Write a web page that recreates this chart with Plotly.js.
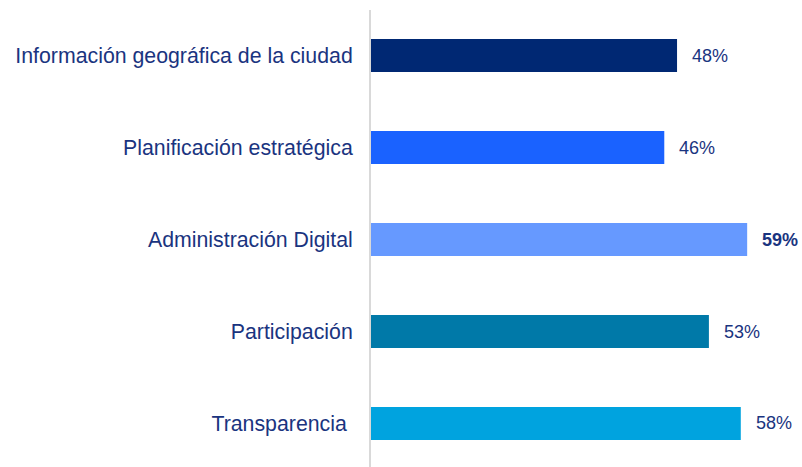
<!DOCTYPE html>
<html>
<head>
<meta charset="utf-8">
<script src="https://cdn.plot.ly/plotly-3.0.1.min.js"></script>
<style>html,body{margin:0;padding:0;background:#fff;}#chart{width:802px;height:467px;}</style>
</head>
<body>
<div id="chart"></div>
<script>
const categories = ["Información geográfica de la ciudad", "Planificación estratégica", "Administración Digital", "Participación", "Transparencia "];
const values = [48, 46, 59, 53, 58];
const valueLabels = ["48%", "46%", "59%", "53%", "58%"];
const barColors = ["#002873", "#1a62ff", "#6699ff", "#0079a8", "#00a3df"];
const boldLabel = [false, false, true, false, false];

const textColor = "#1a3480";

const trace = {
  type: "bar",
  orientation: "h",
  y: categories,
  x: values,
  marker: {color: barColors},
  width: 0.36,
  hoverinfo: "none"
};

const annotations = categories.map((c, i) => ({
  x: values[i],
  y: c,
  xref: "x",
  yref: "y",
  text: boldLabel[i] ? "<b>" + valueLabels[i] + "</b>" : valueLabels[i],
  showarrow: false,
  xanchor: "left",
  yanchor: "middle",
  xshift: 13,
  font: {family: "Liberation Sans, Arial, sans-serif", size: 18, color: textColor}
}));

const layout = {
  width: 802,
  height: 467,
  margin: {l: 371, r: 0, t: 10, b: 0},
  paper_bgcolor: "#ffffff",
  plot_bgcolor: "#ffffff",
  showlegend: false,
  xaxis: {
    range: [0, 67.6],
    showgrid: false,
    zeroline: false,
    showline: false,
    showticklabels: false,
    fixedrange: true
  },
  yaxis: {
    type: "category",
    range: [4.473, -0.495],
    showgrid: false,
    zeroline: false,
    showline: true,
    linecolor: "#d9d9d9",
    linewidth: 2,
    ticks: "",
    ticklabelstandoff: 12,
    tickfont: {family: "Liberation Sans, Arial, sans-serif", size: 21.3, color: textColor},
    fixedrange: true
  },
  annotations: annotations
};

Plotly.newPlot("chart", [trace], layout, {displayModeBar: false, staticPlot: true});
</script>
</body>
</html>
